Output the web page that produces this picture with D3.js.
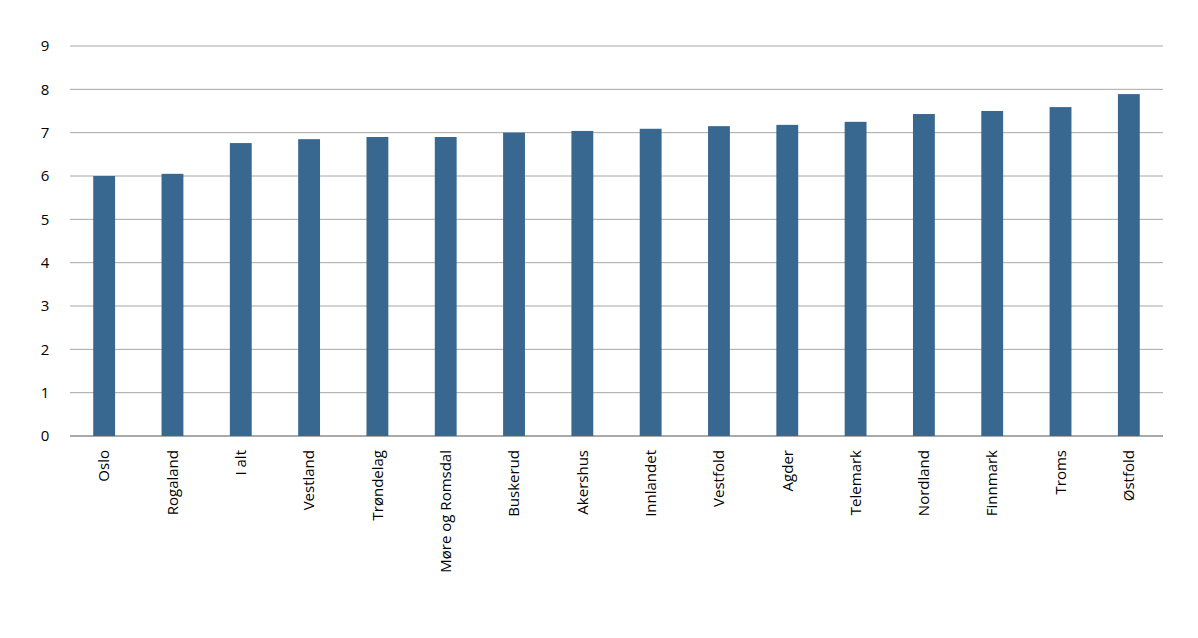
<!DOCTYPE html>
<html>
<head>
<meta charset="utf-8">
<script src="https://cdn.jsdelivr.net/npm/d3@7"></script>
<style>
  body { margin: 0; background: #fff; }
  text { font-family: "Open Sans", "Noto Sans", sans-serif; fill: #000; }
</style>
</head>
<body>
<div id="chart"></div>
<script>
// Categories and values
var categories = ["Oslo", "Rogaland", "I alt", "Vestland", "Trøndelag", "Møre og Romsdal",
  "Buskerud", "Akershus", "Innlandet", "Vestfold", "Agder", "Telemark",
  "Nordland", "Finnmark", "Troms", "Østfold"];
var values = [6.0, 6.05, 6.76, 6.85, 6.9, 6.9, 7.0, 7.04, 7.09, 7.15, 7.18, 7.25, 7.43, 7.5, 7.59, 7.89];
var yTicks = [0, 1, 2, 3, 4, 5, 6, 7, 8, 9];

var W = 1198, H = 638;
var margin = {top: 46, right: 35, bottom: 202, left: 70},
    width = W - margin.left - margin.right,
    height = H - margin.top - margin.bottom;

var svg = d3.select("#chart")
  .append("svg")
    .attr("width", W)
    .attr("height", H)
  .append("g")
    .attr("transform", "translate(" + margin.left + "," + margin.top + ")");

var x = d3.scaleBand().domain(categories).range([0, width]).paddingInner(0.68).paddingOuter(0.34);
var y = d3.scaleLinear().domain([0, 9]).range([height, 0]);

// Gridlines
svg.selectAll("line.grid")
  .data(yTicks)
  .enter()
  .append("line")
    .attr("x1", 0)
    .attr("x2", width)
    .attr("y1", function(d) { return y(d); })
    .attr("y2", function(d) { return y(d); })
    .attr("stroke", function(d) { return d === 0 ? "#555" : "#a6a6a6"; })
    .attr("stroke-width", 1);

// Y tick labels
svg.selectAll("text.ytick")
  .data(yTicks)
  .enter()
  .append("text")
    .attr("x", -25)
    .attr("y", function(d) { return y(d); })
    .attr("dy", "0.35em")
    .attr("text-anchor", "middle")
    .style("font-size", "15px")
    .text(function(d) { return d; });

// Bars
svg.selectAll("rect")
  .data(values)
  .enter()
  .append("rect")
    .attr("x", function(d, i) { return x(categories[i]); })
    .attr("y", function(d) { return y(d); })
    .attr("width", x.bandwidth())
    .attr("height", function(d) { return height - y(d); })
    .attr("fill", "#386890");

// X labels, rotated
svg.selectAll("text.xlab")
  .data(categories)
  .enter()
  .append("text")
    .attr("transform", function(d) {
      return "translate(" + (x(d) + x.bandwidth() / 2) + "," + (height + 14) + ") rotate(-90)";
    })
    .attr("text-anchor", "end")
    .attr("dy", "0.35em")
    .style("font-size", "15px")
    .text(function(d) { return d; });
</script>
</body>
</html>
